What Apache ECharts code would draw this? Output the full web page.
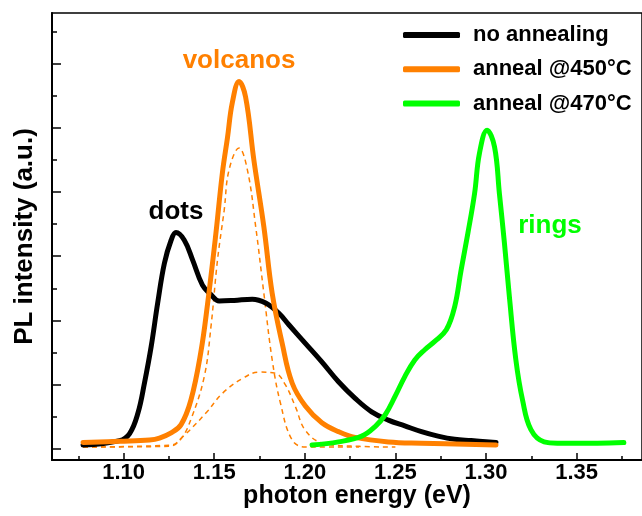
<!DOCTYPE html>
<html>
<head>
<meta charset="utf-8">
<title>PL spectra</title>
<script src="https://cdn.jsdelivr.net/npm/echarts@6/dist/echarts.min.js"></script>
<style>
  html, body { margin: 0; padding: 0; background: #fff; }
  #chart { width: 642px; height: 516px; }
</style>
</head>
<body>
<div id="chart"></div>
<script>
// Photoluminescence spectra: [photon energy (eV), intensity (a.u.)]
const noAnnealing = [
  [1.0776, 0.05], [1.0978, 0.12], [1.1033, 0.23], [1.1079, 0.55], [1.1115, 1.02],
  [1.1152, 1.59], [1.1188, 2.27], [1.1225, 2.89], [1.1262, 3.25], [1.1289, 3.37],
  [1.1335, 3.25], [1.1381, 2.94], [1.1435, 2.55], [1.1482, 2.40], [1.1527, 2.30],
  [1.1610, 2.31], [1.1710, 2.33], [1.1784, 2.27], [1.1857, 2.11], [1.1912, 1.93],
  [1.2003, 1.64], [1.2094, 1.35], [1.2186, 1.04], [1.2278, 0.78], [1.2369, 0.57],
  [1.2461, 0.44], [1.2552, 0.35], [1.2644, 0.26], [1.2735, 0.19], [1.2827, 0.14],
  [1.2918, 0.12], [1.3055, 0.09]
];
const anneal450 = [
  [1.0776, 0.09], [1.0978, 0.11], [1.1143, 0.13], [1.1198, 0.16], [1.1262, 0.24],
  [1.1317, 0.37], [1.1371, 0.75], [1.1426, 1.50], [1.1463, 2.25], [1.1509, 3.35],
  [1.1545, 4.30], [1.1573, 4.85], [1.1600, 5.40], [1.1637, 5.73], [1.1673, 5.49],
  [1.1719, 4.50], [1.1774, 3.46], [1.1820, 2.42], [1.1875, 1.64], [1.1930, 1.02],
  [1.2003, 0.66], [1.2094, 0.40], [1.2186, 0.26], [1.2278, 0.17], [1.2461, 0.10],
  [1.2644, 0.08], [1.3055, 0.05]
];
const anneal470 = [
  [1.2040, 0.05], [1.2186, 0.10], [1.2314, 0.19], [1.2388, 0.34], [1.2443, 0.52],
  [1.2498, 0.81], [1.2552, 1.12], [1.2607, 1.38], [1.2662, 1.54], [1.2717, 1.67],
  [1.2781, 1.85], [1.2827, 2.21], [1.2863, 2.79], [1.2900, 3.36], [1.2937, 3.98],
  [1.2964, 4.61], [1.3006, 4.97], [1.3047, 4.71], [1.3074, 3.98], [1.3102, 3.20],
  [1.3129, 2.37], [1.3165, 1.38], [1.3202, 0.75], [1.3248, 0.29], [1.3321, 0.10],
  [1.3394, 0.08], [1.3614, 0.08], [1.3761, 0.09]
];
// Two-component fit of the 450 °C spectrum
const fitNarrow = [
  [1.0776, 0.02], [1.1250, 0.03], [1.1317, 0.15], [1.1371, 0.45], [1.1445, 1.12],
  [1.1482, 1.90], [1.1518, 2.94], [1.1555, 3.72], [1.1582, 4.35], [1.1637, 4.69],
  [1.1683, 4.35], [1.1729, 3.46], [1.1774, 2.42], [1.1820, 1.38], [1.1866, 0.70],
  [1.1930, 0.13], [1.2003, 0.02], [1.2300, 0.02]
];
const fitBroad = [
  [1.0776, 0.02], [1.1262, 0.05], [1.1326, 0.18], [1.1454, 0.55], [1.1546, 0.86],
  [1.1656, 1.09], [1.1747, 1.19], [1.1838, 1.17], [1.1893, 0.99], [1.1948, 0.65],
  [1.2003, 0.28], [1.2100, 0.08], [1.2300, 0.03], [1.2500, 0.02]
];

const energyTicks = [1.10, 1.15, 1.20, 1.25, 1.30, 1.35];
const energyMinorTicks = [1.075, 1.125, 1.175, 1.225, 1.275, 1.325, 1.375];
const intensityTicks = [0, 1, 2, 3, 4, 5, 6];
const intensityMinorTicks = [0.5, 1.5, 2.5, 3.5, 4.5, 5.5, 6.5];

const seriesNames = ['no annealing', 'anneal @450°C', 'anneal @470°C'];
const BLACK = '#000000', ORANGE = '#ff8000', GREEN = '#00ff00';
const FONT = '"Liberation Sans", Arial, sans-serif';

const X_MIN = 1.06046, X_MAX = 1.38611;
const Y_MIN = -0.183, Y_MAX = 6.80;

const chart = echarts.init(document.getElementById('chart'), null, { renderer: 'canvas' });

const xBase = { type: 'value', min: X_MIN, max: X_MAX, gridIndex: 0, splitLine: { show: false } };
const yBase = { type: 'value', min: Y_MIN, max: Y_MAX, gridIndex: 0, splitLine: { show: false } };

function spectrum(name, data, color, width, dashed) {
  return {
    name: name, type: 'line', data: data, xAxisIndex: 0, yAxisIndex: 0,
    showSymbol: false, smooth: 0.4, silent: !!dashed,
    lineStyle: dashed
      ? { color: color, width: width, type: [5, 4] }
      : { color: color, width: width, cap: 'round', join: 'round' },
    itemStyle: { color: color }
  };
}

chart.setOption({
  animation: false,
  backgroundColor: '#ffffff',
  grid: {
    left: 52, top: 13, right: -3, bottom: 56,
    show: true, borderColor: '#000', borderWidth: 1.5, backgroundColor: 'transparent'
  },
  legend: {
    data: seriesNames,
    orient: 'vertical',
    left: 398, top: 19,
    itemWidth: 57, itemHeight: 6, itemGap: 12.3,
    icon: 'roundRect',
    textStyle: { fontFamily: FONT, fontWeight: 'bold', fontSize: 22, color: '#000', padding: [0, 0, 0, 8] }
  },
  xAxis: [
    Object.assign({}, xBase, {
      position: 'bottom',
      axisLine: { show: true, onZero: false, lineStyle: { color: '#000', width: 2 } },
      axisTick: { show: true, inside: true, length: 7, customValues: energyTicks, lineStyle: { color: '#000', width: 1.5 } },
      axisLabel: {
        show: true, customValues: energyTicks, margin: 2,
        formatter: v => v.toFixed(2),
        fontFamily: FONT, fontWeight: 'bold', fontSize: 22, color: '#000'
      }
    }),
    Object.assign({}, xBase, {
      position: 'bottom',
      axisLine: { show: false, onZero: false },
      axisTick: { show: true, inside: true, length: 4, customValues: energyMinorTicks, lineStyle: { color: '#000', width: 1.5 } },
      axisLabel: { show: false }
    })
  ],
  yAxis: [
    Object.assign({}, yBase, {
      position: 'left',
      axisLine: { show: true, onZero: false, lineStyle: { color: '#000', width: 2 } },
      axisTick: { show: true, inside: true, length: 9, customValues: intensityTicks, lineStyle: { color: '#000', width: 1.5 } },
      axisLabel: { show: false },
      name: 'PL intensity (a.u.)',
      nameLocation: 'middle', nameRotate: 90, nameGap: 14,
      nameTextStyle: { fontFamily: FONT, fontWeight: 'bold', fontSize: 26, color: '#000' }
    }),
    Object.assign({}, yBase, {
      position: 'left',
      axisLine: { show: false, onZero: false },
      axisTick: { show: true, inside: true, length: 5, customValues: intensityMinorTicks, lineStyle: { color: '#000', width: 1.5 } },
      axisLabel: { show: false }
    })
  ],
  graphic: [
    { type: 'text', x: 357, y: 496, style: { text: 'photon energy (eV)', align: 'center', verticalAlign: 'middle', font: 'bold 25px ' + FONT, fill: '#000' } },
    { type: 'text', x: 239, y: 61, style: { text: 'volcanos', align: 'center', verticalAlign: 'middle', font: 'bold 26px ' + FONT, fill: ORANGE } },
    { type: 'text', x: 176, y: 212, style: { text: 'dots', align: 'center', verticalAlign: 'middle', font: 'bold 26px ' + FONT, fill: BLACK } },
    { type: 'text', x: 550, y: 226, style: { text: 'rings', align: 'center', verticalAlign: 'middle', font: 'bold 26px ' + FONT, fill: GREEN } }
  ],
  series: [
    spectrum('narrow component', fitNarrow, ORANGE, 1.5, true),
    spectrum('broad component', fitBroad, ORANGE, 1.5, true),
    spectrum(seriesNames[0], noAnnealing, BLACK, 5),
    spectrum(seriesNames[1], anneal450, ORANGE, 5),
    spectrum(seriesNames[2], anneal470, GREEN, 5)
  ]
});
</script>
</body>
</html>
